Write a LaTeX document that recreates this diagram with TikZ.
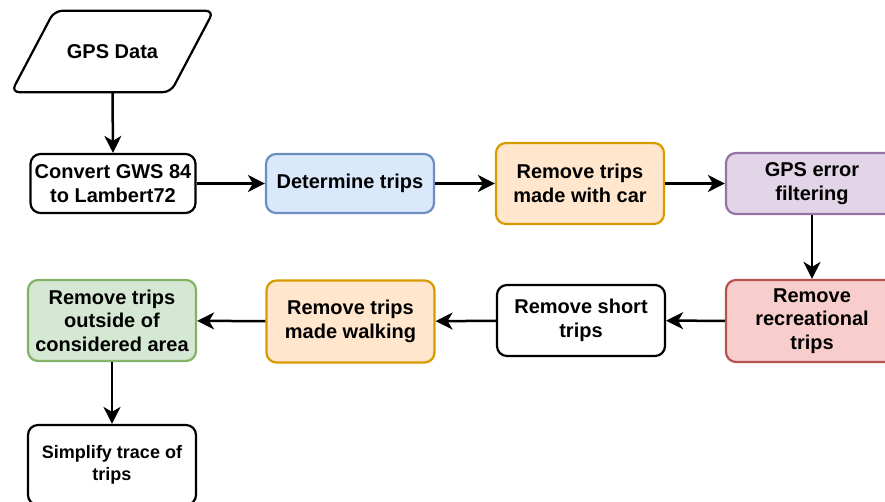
\documentclass[tikz,border=0pt]{standalone}
\usepackage{fontspec}
\setmainfont{Liberation Sans}
\usetikzlibrary{arrows.meta}
\definecolor{bluefill}{HTML}{DAE8FC}\definecolor{bluedraw}{HTML}{6C8EBF}
\definecolor{orangefill}{HTML}{FFE6CC}\definecolor{orangedraw}{HTML}{D79B00}
\definecolor{purplefill}{HTML}{E1D5E7}\definecolor{purpledraw}{HTML}{9673A6}
\definecolor{redfill}{HTML}{F8CECC}\definecolor{reddraw}{HTML}{B85450}
\definecolor{greenfill}{HTML}{D5E8D4}\definecolor{greendraw}{HTML}{82B366}
\tikzset{
  box/.style={draw=black, fill=white, line width=2.2pt, rounded corners=10pt,
    align=center, font=\fontsize{20}{23.5}\selectfont\bfseries,
    minimum width=168pt, inner sep=0pt},
  flow/.style={-{Stealth[length=17pt,width=17pt,inset=5pt]}, line width=2.5pt, black},
}
\begin{document}
\begin{tikzpicture}[x=1pt,y=-1pt]
\useasboundingbox (0,0) rectangle (885,502);
\clip (0,0) rectangle (885,502);
% GPS Data parallelogram
\node[minimum width=159pt, minimum height=81pt, inner sep=0pt] (gps) at (112.5,51.5) {};
\draw[line width=2.2pt, rounded corners=8pt, fill=white]
  ([xshift=21.5pt]gps.north west) -- ([xshift=21.5pt]gps.north east)
  -- ([xshift=-21.5pt]gps.south east) -- ([xshift=-21.5pt]gps.south west) -- cycle;
\node[font=\fontsize{20}{23.5}\selectfont\bfseries] (gpstext) at (gps.center) {GPS Data};

\node[box, minimum width=165pt, minimum height=59pt] (conv) at (113,183.5) {Convert GWS 84\\to Lambert72};
\node[box, fill=bluefill, draw=bluedraw, minimum height=59pt] (det) at (350,183.5) {Determine trips};
\node[box, fill=orangefill, draw=orangedraw, minimum height=81pt] (car) at (580,183.5) {Remove trips\\made with car};
\node[box, fill=purplefill, draw=purpledraw, minimum width=172pt, minimum height=61pt] (err) at (812,183.5) {GPS error\\filtering};
\node[box, fill=redfill, draw=reddraw, minimum width=172pt, minimum height=82pt] (rec) at (812,321) {Remove\\recreational\\trips};
\node[box, minimum height=71pt] (short) at (581,320.5) {Remove short\\trips};
\node[box, fill=orangefill, draw=orangedraw, minimum height=82pt] (walk) at (350.5,321.5) {Remove trips\\made walking};
\node[box, fill=greenfill, draw=greendraw, minimum height=81pt] (area) at (112,320.5) {Remove trips\\outside of\\considered area};
\node[box, minimum height=80pt, font=\fontsize{18}{22}\selectfont\bfseries] (simp) at (112,465) {Simplify trace of\\trips};

\draw[flow] (gps.south) -- (conv.north);
\draw[flow] (conv) -- (det);
\draw[flow] (det) -- (car);
\draw[flow] (car) -- (err);
\draw[flow] (err) -- (rec);
\draw[flow] (rec) -- (short);
\draw[flow] (short) -- (walk);
\draw[flow] (walk) -- (area);
\draw[flow] (area) -- (simp);
\end{tikzpicture}
\end{document}
